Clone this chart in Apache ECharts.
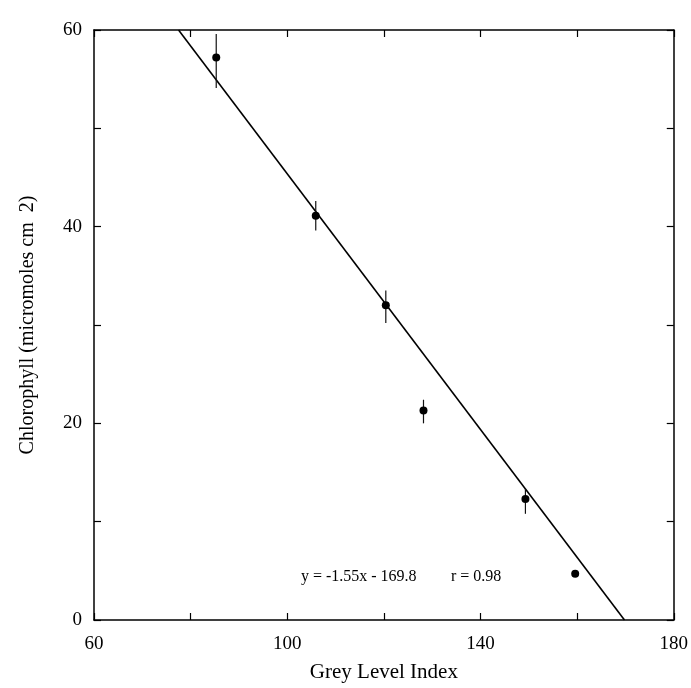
<!DOCTYPE html>
<html>
<head>
<meta charset="utf-8">
<title>Chlorophyll vs Grey Level Index</title>
<script src="https://cdn.jsdelivr.net/npm/echarts@6/dist/echarts.min.js"></script>
<style>
    html, body { margin: 0; padding: 0; background: #fff; }
    #chart { width: 691px; height: 688px; }
</style>
</head>
<body>
<div id="chart"></div>
<script>
'use strict';

// grey level index of each sample
var greyLevel = [85.3, 105.9, 120.4, 128.2, 149.3, 159.6];
// chlorophyll (micromoles cm-2)
var chlorophyll = [57.2, 41.1, 32.0, 21.3, 12.3, 4.7];
// error bar ends
var errorLow = [54.1, 39.6, 30.2, 20.0, 10.8, 4.7];
var errorHigh = [59.6, 42.6, 33.5, 22.4, 13.4, 4.7];
// regression line ends
var fitLine = [[77.5, 60], [169.8, 0]];

var xTickLabels = [60, 100, 140, 180];
var yTickLabels = [0, 20, 40, 60];

var equationText = 'y = -1.55x - 169.8';
var rText = 'r = 0.98';
var equationAt = [114.8, 4.4];
var rAt = [139.1, 4.4];

var FONT = '"Liberation Serif", "DejaVu Serif", serif';

function labelFilter(list) {
    return function (v) {
        return list.indexOf(v) > -1 ? String(v) : '';
    };
}

function frameAxis(extra) {
    var axis = {
        type: 'value',
        splitLine: {show: false},
        axisLine: {show: true, onZero: false, lineStyle: {color: '#000', width: 1.5}},
        axisTick: {show: true, inside: true, length: 7, lineStyle: {color: '#000', width: 1.2}},
        axisLabel: {show: false}
    };
    for (var k in extra) {
        axis[k] = extra[k];
    }
    return axis;
}

var points = greyLevel.map(function (g, i) {
    return [g, chlorophyll[i]];
});
var errorBars = greyLevel.map(function (g, i) {
    return [g, errorLow[i], errorHigh[i]];
});

var chart = echarts.init(document.getElementById('chart'));

chart.setOption({
    animation: false,
    backgroundColor: '#fff',
    grid: {left: 94, right: 10, top: 30, bottom: 64},
    xAxis: [
        frameAxis({
            min: 60, max: 180, interval: 20, position: 'bottom',
            name: 'Grey Level Index',
            nameLocation: 'middle',
            nameGap: 42,
            nameTextStyle: {fontFamily: FONT, fontSize: 21, color: '#000'},
            axisLabel: {
                show: true, margin: 15, color: '#000', fontFamily: FONT, fontSize: 19,
                formatter: labelFilter(xTickLabels)
            }
        }),
        frameAxis({min: 60, max: 180, interval: 20, position: 'top'})
    ],
    yAxis: [
        frameAxis({
            min: 0, max: 60, interval: 10, position: 'left',
            name: 'Chlorophyll (micromoles cm  2)',
            nameLocation: 'middle',
            nameGap: 56,
            nameTextStyle: {fontFamily: FONT, fontSize: 20, color: '#000'},
            axisLabel: {
                show: true, margin: 12, color: '#000', fontFamily: FONT, fontSize: 19,
                formatter: labelFilter(yTickLabels)
            }
        }),
        frameAxis({min: 0, max: 60, interval: 10, position: 'right'})
    ],
    series: [
        {
            type: 'line',
            data: fitLine,
            showSymbol: false,
            silent: true,
            z: 2,
            lineStyle: {color: '#000', width: 1.6}
        },
        {
            type: 'custom',
            data: errorBars,
            silent: true,
            z: 3,
            encode: {x: 0, y: [1, 2]},
            renderItem: function (params, api) {
                var x = api.value(0);
                var lo = api.coord([x, api.value(1)]);
                var hi = api.coord([x, api.value(2)]);
                return {
                    type: 'line',
                    shape: {x1: lo[0], y1: lo[1], x2: hi[0], y2: hi[1]},
                    style: {stroke: '#111', lineWidth: 1.2}
                };
            }
        },
        {
            type: 'scatter',
            data: points,
            symbol: 'circle',
            symbolSize: 8,
            silent: true,
            z: 4,
            itemStyle: {color: '#000', opacity: 1}
        },
        {
            // equation and correlation text
            type: 'scatter',
            symbolSize: 0,
            silent: true,
            data: [
                {value: equationAt, name: equationText},
                {value: rAt, name: rText}
            ],
            label: {
                show: true,
                position: 'inside',
                color: '#000',
                opacity: 1,
                fontFamily: FONT,
                fontSize: 16,
                formatter: function (p) {
                    return p.name;
                }
            }
        }
    ]
});
</script>
</body>
</html>
